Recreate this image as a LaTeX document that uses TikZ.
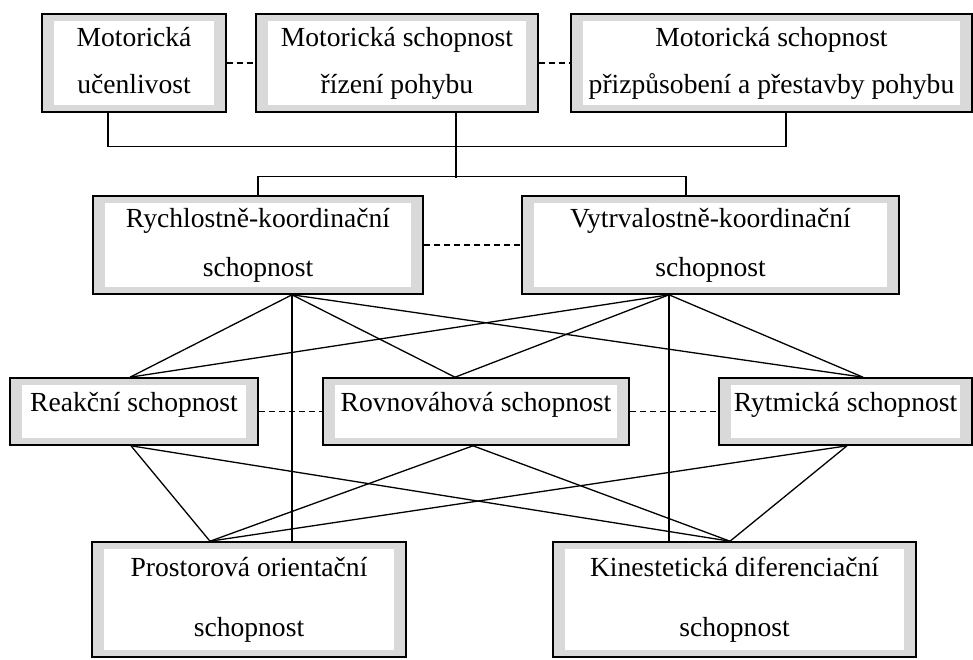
\documentclass[tikz,border=0pt]{standalone}
\usepackage{fontspec}
\setmainfont{Liberation Serif}

\tikzset{
  ability/.style={draw, line width=1.6pt, fill=gray!30, inner sep=0pt, align=center,
    font=\fontsize{27.6}{33}\selectfont,
    path picture={\fill[white] ([xshift=12pt,yshift=-7pt]path picture bounding box.north west)
      rectangle ([xshift=-12pt,yshift=7pt]path picture bounding box.south east);}},
  oneline/.style={text height=18pt, text depth=18pt},
  link/.style={line width=1.3pt},
  peer/.style={line width=1.3pt, dash pattern=on 6pt off 4pt},
}

\begin{document}
\begin{tikzpicture}[x=1pt, y=-1pt]
            \useasboundingbox (0,0) rectangle (973,659);

            % top row
            \node[ability, minimum width=184pt, minimum height=98pt] (ucenlivost) at (134,63) {Motorická\\[14pt]učenlivost\vphantom{p}};
            \node[ability, minimum width=282pt, minimum height=98pt] (rizeni) at (397,63) {Motorická schopnost\\[14pt]řízení pohybu};
            \node[ability, minimum width=401pt, minimum height=98pt] (prizpusobeni) at (771.5,63) {Motorická schopnost\\[14pt]přizpůsobení a přestavby pohybu};

            % coordination abilities
            \node[ability, minimum width=330pt, minimum height=98pt] (rychlost) at (258,245) {Rychlostně-koordinační\\[16pt]schopnost};
            \node[ability, minimum width=377pt, minimum height=98pt] (vytrvalost) at (710.5,245) {Vytrvalostně-koordinační\\[16pt]schopnost};

            \node[ability, oneline, minimum width=248pt, minimum height=67pt] (reakcni) at (134,411.5) {Reakční schopnost};
            \node[ability, oneline, minimum width=306pt, minimum height=67pt] (rovnovaha) at (476,411.5) {Rovnováhová schopnost};
            \node[ability, oneline, minimum width=253pt, minimum height=67pt] (rytmus) at (845.5,411.5) {Rytmická schopnost};

            \node[ability, minimum width=314pt, minimum height=115pt] (prostor) at (249,599.5) {Prostorová orientační\\[27pt]schopnost};
            \node[ability, minimum width=363pt, minimum height=115pt] (kinest) at (734.5,599.5) {Kinestetická diferenciační\\[27pt]schopnost};

            % dashed links between neighbours
            \draw[peer] (ucenlivost) -- (rizeni);
            \draw[peer] (rizeni) -- (prizpusobeni);
            \draw[peer] (rychlost) -- (vytrvalost);
            \draw[peer] (reakcni) -- (rovnovaha);
            \draw[peer] (rovnovaha) -- (rytmus);

            % tree under the top row
            \draw[link] ([xshift=-26pt]ucenlivost.south) -- ++(0,34) -| ([xshift=14.5pt]prizpusobeni.south);
            \draw[link] ([xshift=59pt]rizeni.south) -- ++(0,65);
            \draw[link] (rychlost.north) -- ++(0,-19) -| ([xshift=-24.5pt]vytrvalost.north);

            \coordinate (rychlostB) at ([xshift=34pt]rychlost.south);
            \coordinate (vytrvalostB) at ([xshift=-41.5pt]vytrvalost.south);
            \coordinate (reakcniT) at ([xshift=-4pt]reakcni.north);
            \coordinate (rovnovahaT) at ([xshift=-21pt]rovnovaha.north);
            \coordinate (rytmusT) at ([xshift=17.5pt]rytmus.north);
            \coordinate (reakcniB) at ([xshift=-3pt]reakcni.south);
            \coordinate (rovnovahaB) at ([xshift=-3pt]rovnovaha.south);
            \coordinate (rytmusB) at ([xshift=1.5pt]rytmus.south);
            \coordinate (prostorT) at ([xshift=-39pt]prostor.north);
            \coordinate (kinestT) at ([xshift=-4.5pt]kinest.north);

            \draw[link] (rychlostB) -- (reakcniT);
            \draw[link] (rychlostB) -- (rovnovahaT);
            \draw[link] (rychlostB) -- (rytmusT);
            \draw[link] (rychlostB) -- (rychlostB |- prostor.north);
            \draw[link] (vytrvalostB) -- (reakcniT);
            \draw[link] (vytrvalostB) -- (rovnovahaT);
            \draw[link] (vytrvalostB) -- (rytmusT);
            \draw[link] (vytrvalostB) -- (vytrvalostB |- kinest.north);

            \draw[link] (reakcniB) -- (prostorT);
            \draw[link] (reakcniB) -- (kinestT);
            \draw[link] (rovnovahaB) -- (prostorT);
            \draw[link] (rovnovahaB) -- (kinestT);
            \draw[link] (rytmusB) -- (prostorT);
            \draw[link] (rytmusB) -- (kinestT);

        \end{tikzpicture}
\end{document}
